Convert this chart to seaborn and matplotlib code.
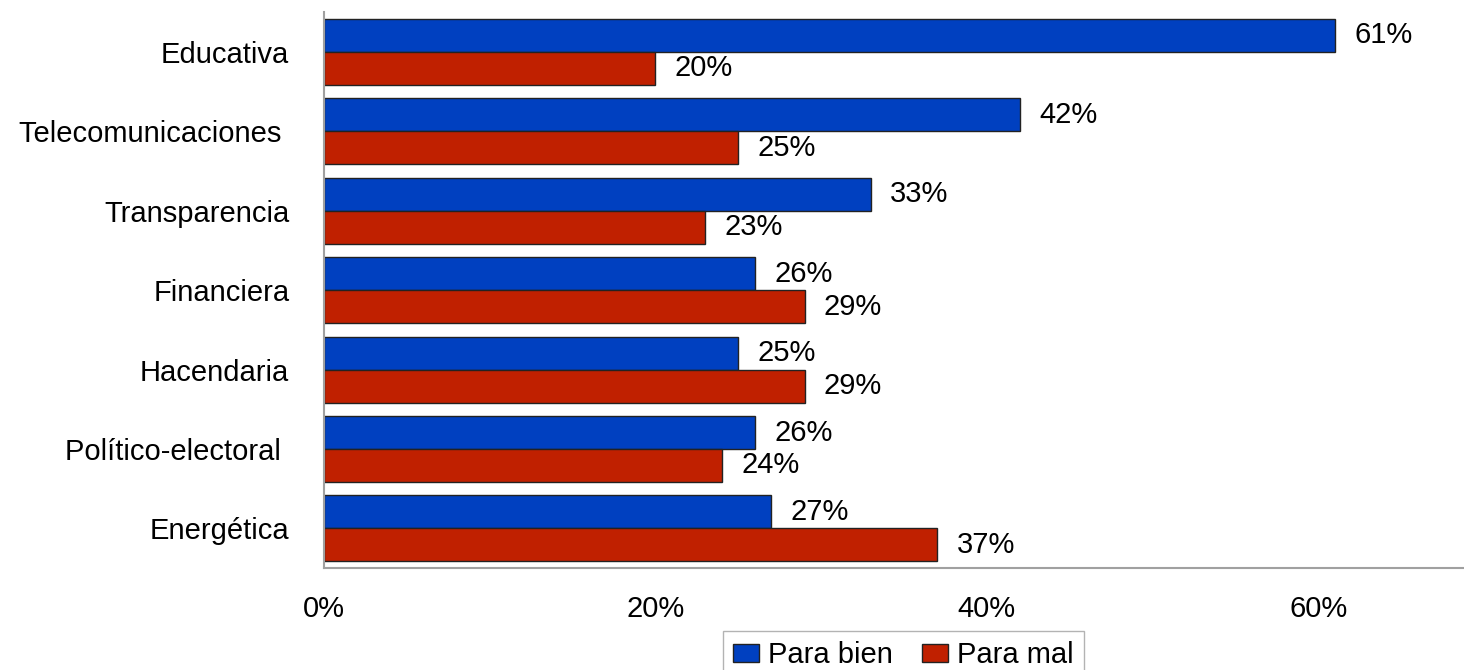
import pandas as pd
import seaborn as sns
import matplotlib.pyplot as plt
from matplotlib.ticker import FuncFormatter

# data
categorias = ["Educativa", "Telecomunicaciones ", "Transparencia", "Financiera",
              "Hacendaria", "Político-electoral ", "Energética"]
para_bien = [61, 42, 33, 26, 25, 26, 27]
para_mal = [20, 25, 23, 29, 29, 24, 37]
series = ["Para bien", "Para mal"]
colores = ["#0040C0", "#C02000"]

df = pd.DataFrame({
    "categoria": categorias * 2,
    "valor": [v / 100 for v in para_bien + para_mal],
    "serie": [series[0]] * len(categorias) + [series[1]] * len(categorias),
})

sns.set_style("white")
plt.rcParams['font.family'] = ['Liberation Sans', 'DejaVu Sans']
plt.rcParams['text.color'] = 'black'
plt.rcParams['xtick.color'] = 'black'
plt.rcParams['ytick.color'] = 'black'
fs = 21

fig = plt.figure(figsize=(14.64, 6.70), dpi=100)
ax = fig.add_axes([0.2213, 0.152, 0.7787, 0.83])

sns.barplot(data=df, y="categoria", x="valor", hue="serie", orient="h",
            palette=colores, width=0.83, edgecolor="#222222", linewidth=1,
            saturation=1, ax=ax, legend=True)

for cont in ax.containers:
    ax.bar_label(cont, labels=[f"{v * 100:.0f}%" for v in cont.datavalues],
                 padding=14, fontsize=fs, color="black")

ax.set_xlim(0, 0.688)
ax.set_ylim(6.5, -0.5)
ax.set_xticks([0, 0.2, 0.4, 0.6])
ax.xaxis.set_major_formatter(FuncFormatter(lambda v, p: f"{v * 100:.0f}%"))
ax.tick_params(axis="both", length=0, labelsize=fs)
ax.tick_params(axis="x", pad=19)
ax.tick_params(axis="y", pad=25)
ax.set_xlabel("")
ax.set_ylabel("")

for s in ["top", "right"]:
    ax.spines[s].set_visible(False)
for s in ["left", "bottom"]:
    ax.spines[s].set_color("#A0A0A0")
    ax.spines[s].set_linewidth(1.5)

ax.legend(loc="upper center", bbox_to_anchor=(0.617, 0.058),
          bbox_transform=fig.transFigure, ncol=2, fontsize=fs,
          frameon=True, fancybox=False, edgecolor="#A0A0A0",
          handlelength=0.9, handleheight=0.6, handletextpad=0.3,
          columnspacing=1.0, borderpad=0.35, borderaxespad=0)

fig.savefig("out.png", dpi=100)
